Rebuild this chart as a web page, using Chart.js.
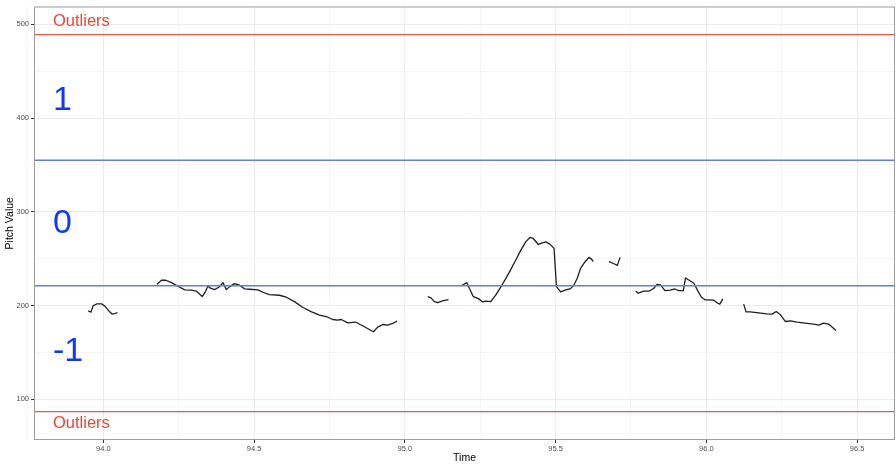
<!DOCTYPE html>
<html>
<head>
<meta charset="utf-8">
<title>Pitch Value over Time</title>
<script src="https://cdn.jsdelivr.net/npm/chart.js@4.4.1/dist/chart.umd.min.js"></script>
<style>
  html, body { margin: 0; padding: 0; background: #ffffff; }
  #wrap { width: 896px; height: 464px; }
</style>
</head>
<body>
<div id="wrap"><canvas id="pitchChart" width="896" height="464"></canvas></div>
<script>
// Voiced stretches of the pitch track (time in s, pitch in Hz)
const seg1Time  = [93.950, 93.959, 93.966, 93.979, 93.994, 94.005, 94.019, 94.029, 94.038, 94.047];
const seg1Pitch = [194.3, 192.9, 199.6, 201.8, 201.8, 199.3, 193.9, 190.8, 191.4, 192.5];

const seg2Time  = [94.178, 94.193, 94.207, 94.226, 94.248, 94.270, 94.292, 94.309, 94.328, 94.339,
                   94.347, 94.355, 94.369, 94.383, 94.397, 94.408, 94.419, 94.435, 94.452, 94.469,
                   94.485, 94.513, 94.529, 94.551, 94.584, 94.607, 94.634, 94.662, 94.689, 94.717,
                   94.739, 94.761, 94.777, 94.789, 94.811, 94.836, 94.860, 94.896, 94.910, 94.927,
                   94.943, 94.960, 94.974];
const seg2Pitch = [222.6, 226.9, 226.9, 224.3, 220.5, 216.6, 216.3, 215.2, 209.5, 214.8,
                   220.8, 218.4, 216.9, 219.4, 224.3, 216.9, 220.1, 223.3, 221.6, 217.6,
                   217.3, 216.6, 214.1, 211.6, 210.9, 208.8, 204.1, 197.8, 193.5, 189.7,
                   188.2, 185.0, 184.4, 185.0, 181.5, 182.3, 178.3, 171.9, 176.9, 179.7,
                   179.1, 180.8, 183.3];

const seg3Time  = [95.076, 95.087, 95.098, 95.109, 95.125, 95.145];
const seg3Pitch = [209.5, 208.1, 204.1, 203.1, 204.9, 206.3];

const seg4Time  = [95.186, 95.206, 95.214, 95.227, 95.244, 95.258, 95.269, 95.285, 95.302, 95.324,
                   95.346, 95.368, 95.385, 95.401, 95.415, 95.426, 95.443, 95.456, 95.468, 95.481,
                   95.495, 95.503, 95.517, 95.534, 95.550, 95.561, 95.572, 95.583, 95.598, 95.611,
                   95.620, 95.625];
const seg4Pitch = [220.8, 224.3, 218.4, 209.5, 207.3, 203.8, 204.6, 204.2, 211.3, 222.6,
                   235.0, 248.5, 259.1, 267.9, 272.6, 271.5, 265.1, 266.8, 267.9, 265.5,
                   260.9, 220.1, 214.4, 216.6, 218.0, 221.9, 229.0, 239.6, 246.7, 251.3,
                   249.2, 246.7];

const seg5Time  = [95.677, 95.694, 95.705, 95.714];
const seg5Pitch = [246.7, 244.5, 242.8, 251.3];

const seg6Time  = [95.766, 95.774, 95.793, 95.810, 95.826, 95.837, 95.848, 95.863, 95.881, 95.896,
                   95.909, 95.924, 95.931, 95.942, 95.959, 95.970, 95.984, 95.997, 96.008, 96.025,
                   96.038, 96.045, 96.055];
const seg6Pitch = [215.5, 213.1, 215.2, 215.2, 218.4, 222.6, 221.9, 215.8, 216.3, 217.6,
                   215.8, 215.8, 229.3, 227.2, 223.7, 216.6, 208.8, 205.9, 205.9, 205.6,
                   202.4, 201.4, 207.0];

const seg7Time  = [96.124, 96.132, 96.146, 96.174, 96.201, 96.218, 96.232, 96.246, 96.262, 96.279,
                   96.301, 96.328, 96.356, 96.373, 96.389, 96.406, 96.419, 96.430];
const seg7Pitch = [201.4, 193.2, 193.2, 192.1, 191.1, 190.8, 193.5, 190.0, 182.9, 183.6,
                   182.2, 181.2, 180.1, 179.1, 181.2, 180.1, 176.5, 173.3];

// Category boundaries and outlier cut-offs (Hz)
const outlierBounds = [489, 86.6];
const levelBounds   = [355, 221];

// Region labels and where they sit on the value axis
const levelLabels   = ['1', '0', '-1'];
const levelLabelAt  = [422, 290, 154];
const outlierLabel  = 'Outliers';
const outlierLabelAt = [505, 75];
const labelTime     = 93.833;

// Axis ticks
const xTicks = [94.0, 94.5, 95.0, 95.5, 96.0, 96.5];
const xTickLabels = ['94.0', '94.5', '95.0', '95.5', '96.0', '96.5'];
const xMinorTicks = [93.75, 94.25, 94.75, 95.25, 95.75, 96.25];
const yTicks = [100, 200, 300, 400, 500];
const yMinorTicks = [150, 250, 350, 450];

const X_MIN = 93.77, X_MAX = 96.626;
const Y_MIN = 56.4,  Y_MAX = 519.1;

// Join the voiced stretches into one series, breaking the line between them
const segments = [
  [seg1Time, seg1Pitch], [seg2Time, seg2Pitch], [seg3Time, seg3Pitch],
  [seg4Time, seg4Pitch], [seg5Time, seg5Pitch], [seg6Time, seg6Pitch],
  [seg7Time, seg7Pitch]
];
const pitchPoints = [];
segments.forEach(([ts, ps], i) => {
  if (i > 0) pitchPoints.push({ x: (segments[i - 1][0].slice(-1)[0] + ts[0]) / 2, y: null });
  ts.forEach((t, k) => pitchPoints.push({ x: t, y: ps[k] }));
});

function hline(value, color, width) {
  return {
    data: [{ x: X_MIN, y: value }, { x: X_MAX, y: value }],
    borderColor: color,
    borderWidth: width,
    pointRadius: 0,
    order: 1
  };
}

const near = (list, v) => list.some(t => Math.abs(t - v) < 1e-6);

const panelDecor = {
  id: 'panelDecor',
  afterDatasetsDraw(chart) {
    const { ctx, scales: { x, y } } = chart;
    ctx.save();
    ctx.textAlign = 'left';
    ctx.textBaseline = 'alphabetic';
    const px = x.getPixelForValue(labelTime);

    const redSize = 16.5;
    ctx.font = redSize + 'px "Liberation Sans", Arial, sans-serif';
    ctx.fillStyle = '#EE4631';
    outlierLabelAt.forEach(v => {
      ctx.fillText(outlierLabel, px, y.getPixelForValue(v) + 0.358 * redSize);
    });

    const bigSize = 34;
    ctx.font = bigSize + 'px "Liberation Sans", Arial, sans-serif';
    ctx.fillStyle = '#0A3CF5';
    levelLabels.forEach((txt, i) => {
      ctx.fillText(txt, px, y.getPixelForValue(levelLabelAt[i]) + 0.358 * bigSize);
    });
    ctx.restore();
  },
  afterDraw(chart) {
    const { ctx, chartArea: a } = chart;
    ctx.save();
    ctx.strokeStyle = '#9E9E9E';
    ctx.lineWidth = 1;
    ctx.strokeRect(a.left + 0.5, a.top + 0.5, a.right - a.left - 1, a.bottom - a.top - 1);
    ctx.restore();
  }
};

new Chart(document.getElementById('pitchChart'), {
  type: 'line',
  data: {
    datasets: [
      {
        data: pitchPoints,
        borderColor: '#1E1E1E',
        borderWidth: 1.3,
        pointRadius: 0,
        spanGaps: false,
        tension: 0,
        borderJoinStyle: 'round',
        order: 2
      },
      hline(outlierBounds[0], '#F1553F', 1.3),
      hline(outlierBounds[1], '#F1553F', 1.3),
      hline(levelBounds[0], '#5F7CF0', 1.5),
      hline(levelBounds[1], '#5F7CF0', 1.5)
    ]
  },
  options: {
    responsive: false,
    animation: false,
    events: [],
    layout: { padding: { top: 5, right: 1, left: 0, bottom: 0 } },
    plugins: { legend: { display: false }, tooltip: { enabled: false } },
    scales: {
      x: {
        type: 'linear',
        min: X_MIN,
        max: X_MAX,
        afterFit(scale) { scale.height = 24; },
        afterBuildTicks(scale) {
          scale.ticks = [...xMinorTicks, ...xTicks].sort((a, b) => a - b).map(v => ({ value: v }));
        },
        ticks: {
          autoSkip: false,
          maxRotation: 0,
          padding: 1,
          color: '#4D4D4D',
          font: { family: '"Liberation Sans", Arial, sans-serif', size: 7.5 },
          callback(v) {
            const i = xTicks.findIndex(t => Math.abs(t - v) < 1e-6);
            return i >= 0 ? xTickLabels[i] : '';
          }
        },
        grid: {
          color: c => near(xTicks, c.tick.value) ? '#EBEBEB' : '#F3F3F3',
          lineWidth: c => near(xTicks, c.tick.value) ? 1 : 0.8,
          tickColor: c => near(xTicks, c.tick.value) ? '#333333' : 'rgba(0,0,0,0)',
          tickLength: 3,
          tickWidth: 1
        },
        border: { display: false },
        title: {
          display: true,
          text: 'Time',
          color: '#000000',
          padding: { top: 0, bottom: 0 },
          font: { family: '"Liberation Sans", Arial, sans-serif', size: 10.5 }
        }
      },
      y: {
        type: 'linear',
        min: Y_MIN,
        max: Y_MAX,
        afterFit(scale) { scale.width = 34; },
        afterBuildTicks(scale) {
          scale.ticks = [...yMinorTicks, ...yTicks].sort((a, b) => a - b).map(v => ({ value: v }));
        },
        ticks: {
          autoSkip: false,
          padding: 2,
          color: '#4D4D4D',
          font: { family: '"Liberation Sans", Arial, sans-serif', size: 7.5 },
          callback: v => near(yTicks, v) ? String(v) : ''
        },
        grid: {
          color: c => near(yTicks, c.tick.value) ? '#EBEBEB' : '#F3F3F3',
          lineWidth: c => near(yTicks, c.tick.value) ? 1 : 0.8,
          tickColor: c => near(yTicks, c.tick.value) ? '#333333' : 'rgba(0,0,0,0)',
          tickLength: 3,
          tickWidth: 1
        },
        border: { display: false },
        title: {
          display: true,
          text: 'Pitch Value',
          color: '#000000',
          padding: { top: 4, bottom: 0 },
          font: { family: '"Liberation Sans", Arial, sans-serif', size: 10.5 }
        }
      }
    }
  },
  plugins: [panelDecor]
});
</script>
</body>
</html>
